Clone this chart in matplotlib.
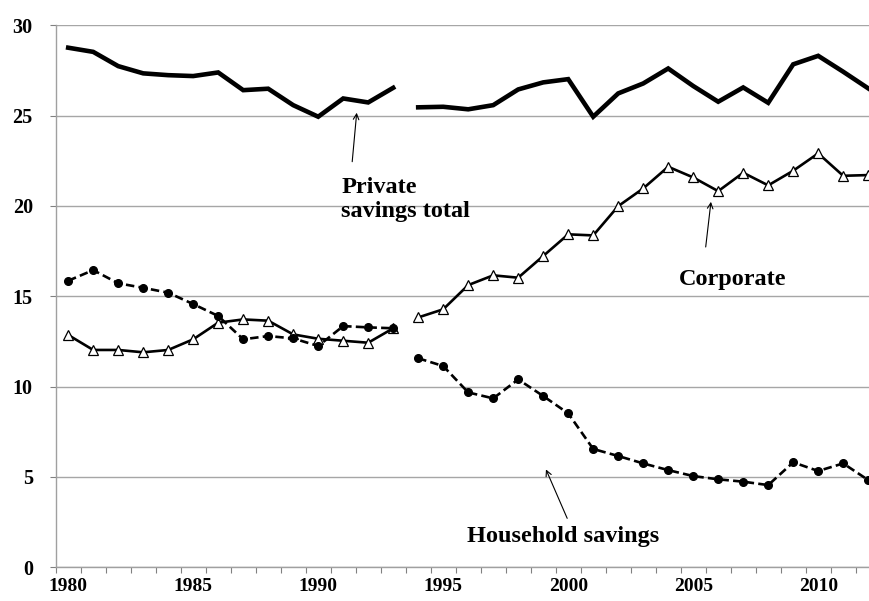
import matplotlib
matplotlib.use("Agg")
import matplotlib.pyplot as plt
import numpy as np

years = list(range(1980, 2013))
private_total = [28.76, 28.53, 27.74, 27.34, 27.24, 27.19, 27.39, 26.41, 26.49, 25.58,
                 24.94, 25.95, 25.73, 26.54,
                 25.46, 25.49, 25.35, 25.58, 26.45, 26.84, 27.02, 24.94, 26.23, 26.78,
                 27.61, 26.64, 25.77, 26.56, 25.71, 27.84, 28.31, 27.43, 26.51]
corporate = [12.86, 12.03, 12.03, 11.90, 12.03, 12.62, 13.54, 13.72, 13.65, 12.89,
             12.65, 12.54, 12.43, 13.23,
             13.83, 14.28, 15.62, 16.16, 16.03, 17.23, 18.43, 18.37, 19.99, 20.97,
             22.17, 21.58, 20.82, 21.84, 21.14, 21.95, 22.91, 21.67, 21.71]
household = [15.86, 16.45, 15.72, 15.47, 15.20, 14.57, 13.91, 12.62, 12.80, 12.67,
             12.25, 13.35, 13.28, 13.23,
             11.57, 11.14, 9.68, 9.35, 10.40, 9.48, 8.52, 6.55, 6.16, 5.75,
             5.38, 5.05, 4.87, 4.74, 4.55, 5.81, 5.33, 5.75, 4.83]
break_year = 1994
x_labels = [1980, 1985, 1990, 1995, 2000, 2005, 2010]
y_ticks = [0, 5, 10, 15, 20, 25, 30]

plt.rcParams['font.family'] = ['Liberation Serif', 'DejaVu Serif']

W, H = 869, 601
fig = plt.figure(figsize=(W / 100, H / 100), dpi=100)
left_px, right_px, top_px, bot_px = 55.7, 880.7, 25.3, 567.3
ax = fig.add_axes([left_px / W, 1 - bot_px / H, (right_px - left_px) / W, (bot_px - top_px) / H])

yrs = np.array(years)
segs = [yrs < break_year, yrs >= break_year]
pt = np.array(private_total)
co = np.array(corporate)
hh = np.array(household)
for m in segs:
    ax.plot(yrs[m], pt[m], color='black', lw=3.3, solid_joinstyle='miter', zorder=4)
    ax.plot(yrs[m], co[m], color='black', lw=1.9, marker='^', ms=6.5, mfc='white',
            mec='black', mew=0.9, zorder=3)
    ax.plot(yrs[m], hh[m], color='black', lw=1.9, ls=(0, (3.2, 1.6)), marker='o', ms=5.5,
            mfc='black', mec='black', zorder=3)

ax.set_xlim(1979.5, 2012.5)
ax.set_ylim(0, 30)
ax.set_yticks(y_ticks)
ax.set_yticklabels([str(v) for v in y_ticks], fontsize=14.5, fontweight='bold')
ax.set_xticks(x_labels)
ax.set_xticklabels([str(v) for v in x_labels], fontsize=14, fontweight='bold')
ax.set_xticks(np.arange(1979.5, 2013, 1.0), minor=True)
ax.tick_params(axis='x', which='major', length=0, pad=8)
ax.tick_params(axis='x', which='minor', length=4.5, width=0.8, color='#808080', direction='out')
ax.tick_params(axis='y', which='major', length=4.5, width=0.8, color='#808080', pad=12)

ax.grid(axis='y', color='#a6a6a6', lw=1.0)
ax.set_axisbelow(True)
for s in ['top', 'right']:
    ax.spines[s].set_visible(False)
for s in ['left', 'bottom']:
    ax.spines[s].set_color('#a0a0a0')
    ax.spines[s].set_linewidth(1.0)

arrow = dict(arrowstyle='->', color='black', lw=0.8, shrinkA=0, shrinkB=0)
ax.annotate('', xy=(1991.54, 25.16), xytext=(1991.36, 22.45), arrowprops=arrow)
ax.text(1990.93, 20.35, 'Private\nsavings total', fontsize=17.5, fontweight='bold',
        ha='left', va='center', linespacing=1.15)
ax.annotate('', xy=(2005.71, 20.23), xytext=(2005.5, 17.73), arrowprops=arrow)
ax.text(2004.43, 15.95, 'Corporate', fontsize=17.5, fontweight='bold', ha='left', va='center')
ax.annotate('', xy=(1999.11, 5.42), xytext=(1999.96, 2.71), arrowprops=arrow)
ax.text(1995.94, 1.69, 'Household savings', fontsize=17.5, fontweight='bold', ha='left', va='center')

fig.savefig('out.png', dpi=100)
